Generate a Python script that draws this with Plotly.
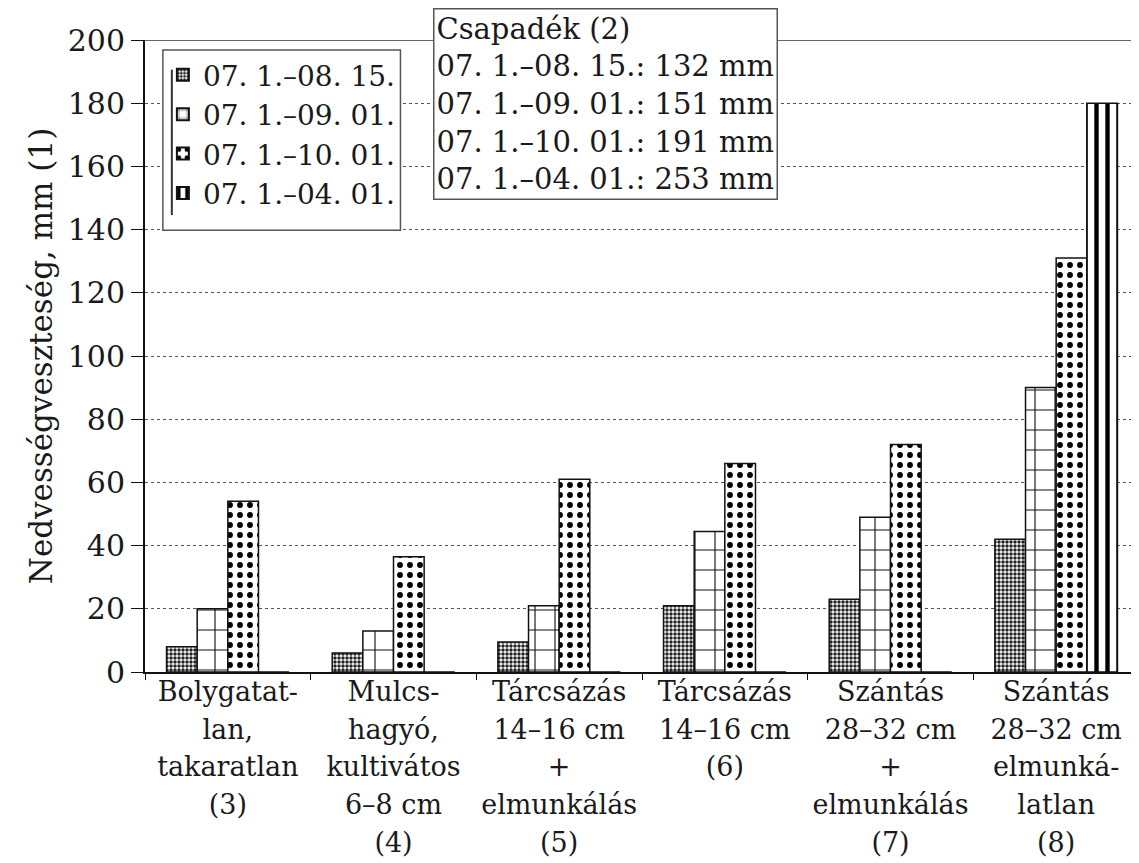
import plotly.graph_objects as go

categories = [
    "Bolygatat-<br>lan,<br>takaratlan<br>(3)",
    "Mulcs-<br>hagyó,<br>kultivátos<br>6–8 cm<br>(4)",
    "Tárcsázás<br>14–16 cm<br>+<br>elmunkálás<br>(5)",
    "Tárcsázás<br>14–16 cm<br>(6)",
    "Szántás<br>28–32 cm<br>+<br>elmunkálás<br>(7)",
    "Szántás<br>28–32 cm<br>elmunká-<br>latlan<br>(8)",
]
series_names = ["07. 1.–08. 15.", "07. 1.–09. 01.", "07. 1.–10. 01.", "07. 1.–04. 01."]
s1 = [8, 6, 9.5, 21, 23, 42]
s2 = [20, 13, 21, 44.5, 49, 90]
s3 = [54, 36.5, 61, 66, 72, 131]
s4 = [0, 0, 0, 0, 0, 180]
precip_lines = ["Csapadék (2)", "07. 1.–08. 15.: 132 mm", "07. 1.–09. 01.: 151 mm",
                "07. 1.–10. 01.: 191 mm", "07. 1.–04. 01.: 253 mm"]
y_ticks = [0, 20, 40, 60, 80, 100, 120, 140, 160, 180, 200]

FONT = "DejaVu Serif"
TXT = "#1a1a1a"
patterns = [
    dict(shape=".", size=4, solidity=0.6, fgcolor="#222", bgcolor="white", fgopacity=1),
    dict(shape="+", size=20, solidity=0.11, fgcolor="#111", bgcolor="white", fgopacity=1),
    dict(shape=".", size=10, solidity=0.27, fgcolor="#000", bgcolor="white", fgopacity=1),
    dict(shape="|", size=11, solidity=0.4, fgcolor="#000", bgcolor="white", fgopacity=1),
]

# tick label text: smaller glyphs inside a larger base font gives wider line spacing
tick_text = ["<br>".join(f"<span style='font-size:27px'>{ln}</span>" for ln in c.split("<br>"))
             for c in categories]

fig = go.Figure()
for name, vals, pat in zip(series_names, [s1, s2, s3, s4], patterns):
    fig.add_trace(go.Bar(
        x=categories, y=vals, name=name,
        marker=dict(color="white", pattern=pat, line=dict(color="#111", width=1.5)),
    ))

fig.update_layout(
    width=1131, height=855,
    barmode="group", bargap=0.26, bargroupgap=0,
    plot_bgcolor="white", paper_bgcolor="white",
    margin=dict(l=137, r=0, t=32, b=191, autoexpand=False),
    font=dict(family=FONT, size=26, color=TXT),
    showlegend=True,
    legend=dict(
        x=0.018, y=0.984, xanchor="left", yanchor="top",
        bgcolor="rgba(0,0,0,0)", borderwidth=0,
        font=dict(family=FONT, size=28, color=TXT),
        itemsizing="constant", tracegroupgap=0,
    ),
    xaxis=dict(
        showline=True, linecolor="#111", linewidth=2,
        ticks="outside", ticklen=6, tickcolor="#111", tickson="boundaries",
        tickmode="array", tickvals=categories, ticktext=tick_text, tickangle=0,
        tickfont=dict(family=FONT, size=29, color=TXT), ticklabelstandoff=-8,
        showgrid=False, automargin=False,
    ),
    yaxis=dict(
        range=[0, 200], tickvals=y_ticks,
        showline=True, linecolor="#111", linewidth=2,
        ticks="outside", ticklen=12, tickcolor="#111",
        tickfont=dict(family=FONT, size=30, color=TXT),
        showgrid=True, gridcolor="#555", griddash="dot", gridwidth=1,
        title=dict(text="Nedvességveszteség, mm (1)",
                   font=dict(family=FONT, size=31, color=TXT), standoff=6),
        zeroline=False, automargin=False,
    ),
)
fig.add_shape(type="line", xref="paper", yref="y", x0=0, x1=1, y0=200, y1=200,
              line=dict(color="#333", width=1.5), layer="below")
# legend box
fig.add_shape(type="rect", xref="paper", yref="paper", x0=0.018, x1=0.257, y0=0.699, y1=0.984,
              fillcolor="white", line=dict(color="#555", width=1.5), layer="above")
fig.add_shape(type="line", xref="paper", yref="paper", x0=0.027, x1=0.027, y0=0.723, y1=0.953,
              line=dict(color="#333", width=2), layer="above")
fig.add_annotation(
    xref="paper", yref="paper", x=0.29, y=1.05, xanchor="left", yanchor="top",
    text="<br>".join(precip_lines), align="left", showarrow=False,
    font=dict(family=FONT, size=29, color=TXT),
    bgcolor="white", bordercolor="#555", borderwidth=1.5, borderpad=2,
)
fig.write_html("out.html")
